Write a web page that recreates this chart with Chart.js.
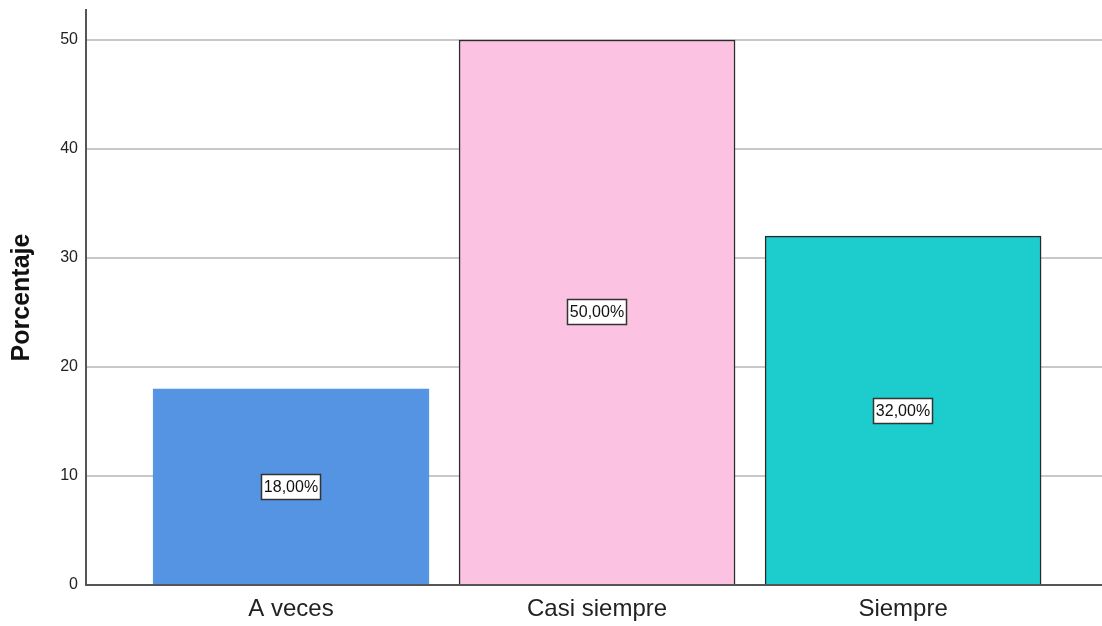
<!DOCTYPE html>
<html>
<head>
<meta charset="utf-8">
<script src="https://cdn.jsdelivr.net/npm/chart.js@4"></script>
<style>
  html, body { margin: 0; padding: 0; background: #fff; }
  #wrap { width: 1102px; height: 626px; }
</style>
</head>
<body>
<div id="wrap"><canvas id="myChart" width="1102" height="626"></canvas></div>
<script>
"use strict"

// categories and percentages
let categories = ["A veces", "Casi siempre", "Siempre"];
let percentages = [18, 50, 32];
let yTicks = [0, 10, 20, 30, 40, 50];
let barColors = ["#5594e3", "#fcc2e1", "#1dcdcd"];
let barBorders = ["#5594e3", "#2a2a2a", "#2a2a2a"];

// bars sit on a linear x axis so there is extra room at both sides
let points = [];
for (let i = 0; i < categories.length; i++) {
  points.push({ x: i, y: percentages[i] });
}

// draws the little white boxes with the value in the middle of each bar
const valueBoxes = {
  id: "valueBoxes",
  afterDatasetsDraw(chart) {
    const ctx = chart.ctx;
    const meta = chart.getDatasetMeta(0);
    const yScale = chart.scales.y;
    ctx.save();
    ctx.font = "16px 'Liberation Sans', Arial, sans-serif";
    ctx.textAlign = "center";
    ctx.textBaseline = "middle";
    meta.data.forEach(function (bar, i) {
      let text = percentages[i].toFixed(2).replace(".", ",") + "%";
      let cx = Math.round(bar.x);
      let cy = Math.round(yScale.getPixelForValue(percentages[i] / 2));
      let w = Math.round(ctx.measureText(text).width + 5);
      let h = 25;
      ctx.fillStyle = "#ffffff";
      ctx.fillRect(cx - w / 2, cy - h / 2, w, h);
      ctx.strokeStyle = "#333333";
      ctx.lineWidth = 1.5;
      ctx.strokeRect(cx - w / 2, cy - h / 2, w, h);
      ctx.fillStyle = "#111111";
      ctx.fillText(text, cx, cy + 1);
    });
    ctx.restore();
  }
};

const ctx = document.getElementById("myChart").getContext("2d");
const myChart = new Chart(ctx, {
  type: "bar",
  data: {
    datasets: [
      {
        label: "Porcentaje",
        data: points,
        backgroundColor: barColors,
        borderColor: barBorders,
        borderWidth: 1.5,
        barThickness: 276
      }
    ]
  },
  options: {
    responsive: false,
    animation: false,
    layout: { padding: { top: 10, right: 0, left: 0, bottom: 0 } },
    plugins: {
      legend: { display: false },
      tooltip: { enabled: false }
    },
    scales: {
      x: {
        type: "linear",
        offset: false,
        min: -0.67,
        max: 2.65,
        afterBuildTicks: function (scale) {
          scale.ticks = categories.map(function (c, i) { return { value: i }; });
        },
        afterFit: function (scale) {
          scale.height = 41;
          scale.paddingLeft = 0;
          scale.paddingRight = 0;
        },
        ticks: {
          callback: function (value) { return categories[value]; },
          font: { family: "'Liberation Sans', Arial, sans-serif", size: 24 },
          color: "#222222",
          padding: 10,
          maxRotation: 0,
          autoSkip: false
        },
        grid: { display: false, drawTicks: false },
        border: { display: true, color: "#555555", width: 2 }
      },
      y: {
        min: 0,
        max: 52.75,
        afterBuildTicks: function (scale) {
          scale.ticks = yTicks.map(function (v) { return { value: v }; });
        },
        afterFit: function (scale) {
          scale.width = 86;
          scale.paddingTop = 0;
          scale.paddingBottom = 0;
        },
        ticks: {
          font: { family: "'Liberation Sans', Arial, sans-serif", size: 16 },
          color: "#222222",
          padding: 8
        },
        grid: { color: "#c8c8c8", lineWidth: 2, drawTicks: false },
        border: { display: true, color: "#555555", width: 2 },
        title: {
          display: true,
          text: "Porcentaje",
          font: { family: "'Liberation Sans', Arial, sans-serif", size: 25, weight: "bold" },
          color: "#111111",
          padding: { top: 7, bottom: 0 }
        }
      }
    }
  },
  plugins: [valueBoxes]
});
</script>
</body>
</html>
